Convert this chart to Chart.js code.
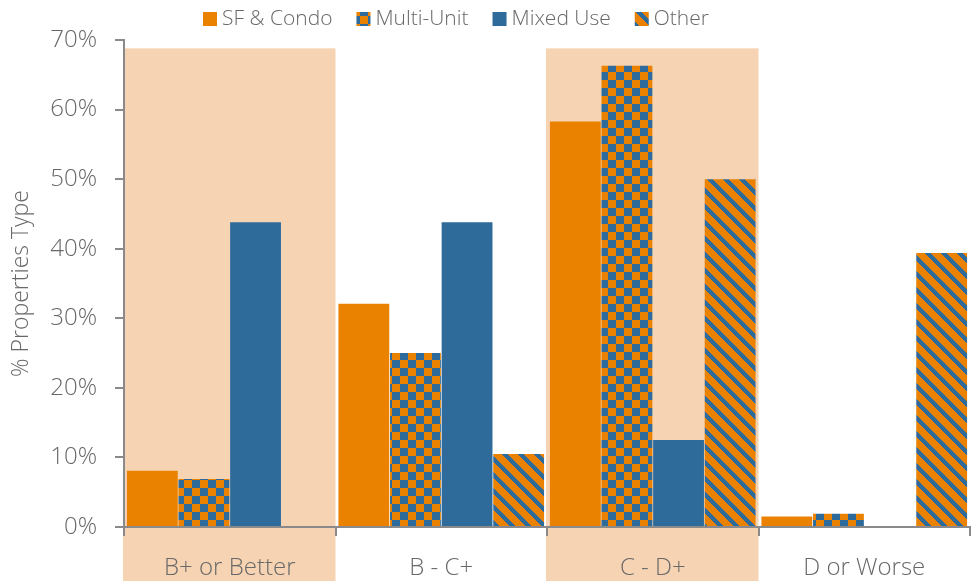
<!DOCTYPE html>
<html>
<head>
<meta charset="utf-8">
<script src="https://cdn.jsdelivr.net/npm/chart.js@4.4.1/dist/chart.umd.min.js"></script>
<style>
  html, body { margin: 0; padding: 0; background: #ffffff; }
  #wrap { width: 975px; height: 581px; }
</style>
</head>
<body>
<div id="wrap"><canvas id="c" width="975" height="581"></canvas></div>
<script>
// Share of properties per grade band, by property type (%)
const categories = ['B+ or Better', 'B - C+', 'C - D+', 'D or Worse'];
const seriesNames = ['SF & Condo', 'Multi-Unit', 'Mixed Use', 'Other'];
const sfCondo   = [8.1, 32.1, 58.3, 1.5];
const multiUnit = [6.9, 25.0, 66.3, 1.9];
const mixedUse  = [43.8, 43.8, 12.5, 0];
const other     = [0, 10.5, 50.0, 39.4];
const yTickValues = [0, 10, 20, 30, 40, 50, 60, 70];
const shadedCategories = ['B+ or Better', 'C - D+'];

const ORANGE = '#EA8200';
const BLUE = '#2E6B9B';
const SHADE = '#F6D3B3';
const TEXT = '#686868';
const AXIS = '#8a8a8a';
const FONT = '"Open Sans", "Segoe UI", sans-serif';
const SHADE_TOP = 68.8;

// 16px checkerboard tile, 8px cells
function checkerPattern(ctx) {
  const t = document.createElement('canvas');
  t.width = 16; t.height = 16;
  const g = t.getContext('2d');
  g.fillStyle = ORANGE; g.fillRect(0, 0, 16, 16);
  g.fillStyle = BLUE;
  g.fillRect(0, 0, 8, 8);
  g.fillRect(8, 8, 8, 8);
  return ctx.createPattern(t, 'repeat');
}

// 16px tile with blue stripes running down to the right
function stripePattern(ctx) {
  const t = document.createElement('canvas');
  t.width = 16; t.height = 16;
  const g = t.getContext('2d');
  g.fillStyle = ORANGE; g.fillRect(0, 0, 16, 16);
  g.fillStyle = BLUE;
  for (let y = 0; y < 16; y++) {
    for (let x = 0; x < 16; x++) {
      const d = ((x - y) % 16 + 16) % 16;
      if (d < 6) g.fillRect(x, y, 1, 1);
    }
  }
  return ctx.createPattern(t, 'repeat');
}

// Peach bands behind selected categories, running down past the axis labels
const shadePlugin = {
  id: 'shadeBands',
  beforeDraw(chart) {
    const { ctx, scales: { x, y } } = chart;
    const half = (x.getPixelForValue(1) - x.getPixelForValue(0)) / 2;
    const top = y.getPixelForValue(SHADE_TOP);
    ctx.save();
    ctx.fillStyle = SHADE;
    shadedCategories.forEach(cat => {
      const i = categories.indexOf(cat);
      const cx = x.getPixelForValue(i);
      ctx.fillRect(cx - half - 1, top, half * 2 + 1, chart.height - top);
    });
    ctx.restore();
  }
};

// Legend row across the top
const legendPlugin = {
  id: 'topLegend',
  afterDraw(chart) {
    const { ctx } = chart;
    ctx.save();
    ctx.font = '300 21px ' + FONT;
    ctx.textBaseline = 'middle';
    let xPos = 203;
    const yMid = 19;
    chart.data.datasets.forEach(ds => {
      ctx.fillStyle = ds.backgroundColor;
      ctx.fillRect(xPos, yMid - 7, 14, 14);
      ctx.fillStyle = TEXT;
      ctx.fillText(ds.label, xPos + 19, yMid);
      xPos += 19 + ctx.measureText(ds.label).width + 24;
    });
    ctx.restore();
  }
};

function draw() {
  const canvas = document.getElementById('c');
  const ctx = canvas.getContext('2d');
  const checker = checkerPattern(ctx);
  const stripes = stripePattern(ctx);
  const fills = [ORANGE, checker, BLUE, stripes];
  const values = [sfCondo, multiUnit, mixedUse, other];

  new Chart(ctx, {
    type: 'bar',
    data: {
      labels: categories,
      datasets: seriesNames.map((name, i) => ({
        label: name,
        data: values[i],
        backgroundColor: fills[i],
        borderWidth: 0,
        barPercentage: 0.985,
        categoryPercentage: 0.976
      }))
    },
    options: {
      responsive: false,
      animation: false,
      devicePixelRatio: 1,
      layout: { padding: { top: 40, right: 5, left: 0, bottom: 0 } },
      plugins: {
        legend: { display: false },
        tooltip: { enabled: false },
        title: { display: false }
      },
      scales: {
        x: {
          type: 'category',
          grid: {
            offset: true,
            drawOnChartArea: false,
            drawTicks: true,
            tickLength: 9,
            color: AXIS,
            lineWidth: 2
          },
          border: { display: true, color: AXIS, width: 2 },
          ticks: {
            color: TEXT,
            font: { family: FONT, size: 24, weight: '300' },
            padding: 18,
            maxRotation: 0
          },
          afterFit(scale) { scale.height = 54; }
        },
        y: {
          min: 0,
          max: 70,
          afterBuildTicks(scale) {
            scale.ticks = yTickValues.map(v => ({ value: v }));
          },
          grid: {
            drawOnChartArea: false,
            drawTicks: true,
            tickLength: 9,
            color: AXIS,
            lineWidth: 2
          },
          border: { display: true, color: AXIS, width: 2 },
          ticks: {
            color: TEXT,
            font: { family: FONT, size: 24, weight: '300' },
            padding: 18,
            callback: v => v + '%'
          },
          title: {
            display: true,
            text: '% Properties Type',
            color: TEXT,
            font: { family: FONT, size: 23, weight: '300' },
            padding: { top: 8, bottom: 0 }
          },
          afterFit(scale) { scale.width = 124; }
        }
      }
    },
    plugins: [shadePlugin, legendPlugin]
  });
}

if (document.fonts && document.fonts.load) {
  Promise.all([
    document.fonts.load('300 24px "Open Sans"'),
    document.fonts.load('24px "Open Sans"')
  ]).then(draw, draw);
} else {
  draw();
}
</script>
</body>
</html>
